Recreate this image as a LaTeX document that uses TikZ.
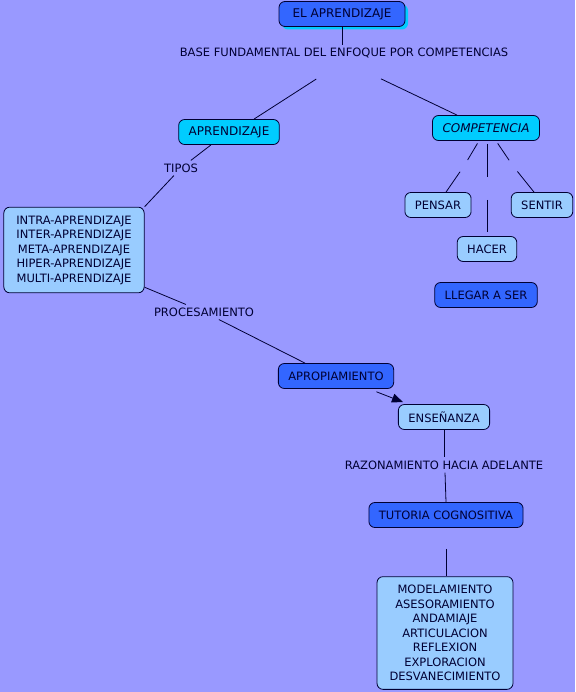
\documentclass[tikz,border=0pt]{standalone}
\usepackage{fontspec}
\setmainfont{DejaVu Sans}
\usetikzlibrary{arrows.meta,shadows}
\definecolor{fondo}{HTML}{9999FF}
\definecolor{azul}{HTML}{3366FF}
\definecolor{celeste}{HTML}{00CCFF}
\definecolor{claro}{HTML}{99CCFF}
\definecolor{tinta}{HTML}{000033}
\begin{document}
\begin{tikzpicture}[
		x=1pt, y=-1pt,
		every node/.style={font=\fontsize{11.5pt}{14.5pt}\selectfont, text=tinta},
		caja/.style={draw=tinta, line width=0.8pt, rounded corners=6pt, minimum height=25pt, inner xsep=10pt, align=center},
		oscuro/.style={caja, fill=azul},
		cian/.style={caja, fill=celeste, font=\fontsize{12pt}{14pt}\selectfont},
		palido/.style={caja, fill=claro},
		lista/.style={palido, inner xsep=12.5pt, inner ysep=8.5pt},
		rotulo/.style={inner sep=3pt},
		enlace/.style={draw=tinta, line width=0.8pt}
		]
		\fill [fondo] (0,0) rectangle (575,692);
		\useasboundingbox (0,0) rectangle (575,692);
		
		% Knoten
		\node [oscuro, font=\fontsize{12pt}{14pt}\selectfont, minimum width=126pt, drop shadow={fill=celeste, opacity=1, shadow xshift=3pt, shadow yshift=-3pt}] (titulo) at (342,14) {EL APRENDIZAJE};
		\node [rotulo] (base) at (344,53) {BASE FUNDAMENTAL DEL ENFOQUE POR COMPETENCIAS};
		\node [cian] (aprend) at (229,132) {APRENDIZAJE};
		\node [cian, font=\fontsize{12pt}{14pt}\selectfont\itshape] (compet) at (486,128) {COMPETENCIA};
		\node [rotulo] (tipos) at (181,168) {TIPOS};
		\node [lista] (tipologia) at (74,250) {INTRA-APRENDIZAJE\\INTER-APRENDIZAJE\\META-APRENDIZAJE\\HIPER-APRENDIZAJE\\MULTI-APRENDIZAJE};
		\node [palido] (pensar) at (438,205) {PENSAR};
		\node [palido] (sentir) at (542,205) {SENTIR};
		\node [palido] (hacer) at (487,249) {HACER};
		\node [oscuro] (llegar) at (486,295) {LLEGAR A SER};
		\node [rotulo] (proces) at (204,312) {PROCESAMIENTO};
		\node [oscuro] (apropia) at (336,376) {APROPIAMIENTO};
		\node [palido] (ensena) at (444,417) {ENSEÑANZA};
		\node [rotulo] (razona) at (444,465) {RAZONAMIENTO HACIA ADELANTE};
		\node [oscuro] (tutoria) at (446,515) {TUTORIA COGNOSITIVA};
		\node [lista] (modelos) at (445,633) {MODELAMIENTO\\ASESORAMIENTO\\ANDAMIAJE\\ARTICULACION\\REFLEXION\\EXPLORACION\\DESVANECIMIENTO};
		
		\coordinate (gpensar) at (464,166);
		\coordinate (ghacer) at (487,188);
		\coordinate (gsentir) at (513,166);
		
		% Verbindungen
		\draw [enlace] (titulo.south) -- (titulo.south |- base.north);
		\draw [enlace, shorten <=33pt] (base.south) -- ([xshift=25pt]aprend.north);
		\draw [enlace, shorten <=41pt] (base.south) -- ([xshift=-29pt]compet.north);
		\draw [enlace] ([xshift=-18pt]aprend.south) -- (tipos);
		\draw [enlace] (tipos) -- (tipologia.north east);
		\draw [enlace] ([yshift=6pt]tipologia.south east) -- (proces);
		\draw [enlace] (proces) -- ([xshift=-31pt]apropia.north);
		\draw [enlace, -{Triangle[length=11pt,width=9pt]}, shorten <=8pt] ([xshift=33pt]apropia.south) -- ([xshift=5pt,yshift=2pt]ensena.north west);
		\draw [enlace] (ensena.south) -- (ensena.south |- razona.north);
		\draw [enlace] ([xshift=1pt]razona.south) -- (tutoria.north);
		\draw [enlace, shorten <=21pt] (tutoria.south) -- (tutoria.south |- modelos.north);
		\draw [enlace, shorten <=3pt, shorten >=7pt] ([xshift=-7pt]compet.south) -- (gpensar);
		\draw [enlace, shorten <=7pt] (gpensar) -- ([xshift=8pt]pensar.north);
		\draw [enlace, shorten <=3pt, shorten >=11pt] ([xshift=1pt]compet.south) -- (ghacer);
		\draw [enlace, shorten <=12pt, shorten >=4pt] (ghacer) -- (hacer.north);
		\draw [enlace, shorten <=3pt, shorten >=7pt] ([xshift=10pt]compet.south) -- (gsentir);
		\draw [enlace, shorten <=7pt] (gsentir) -- ([xshift=-8pt]sentir.north);
		
	\end{tikzpicture}
\end{document}
